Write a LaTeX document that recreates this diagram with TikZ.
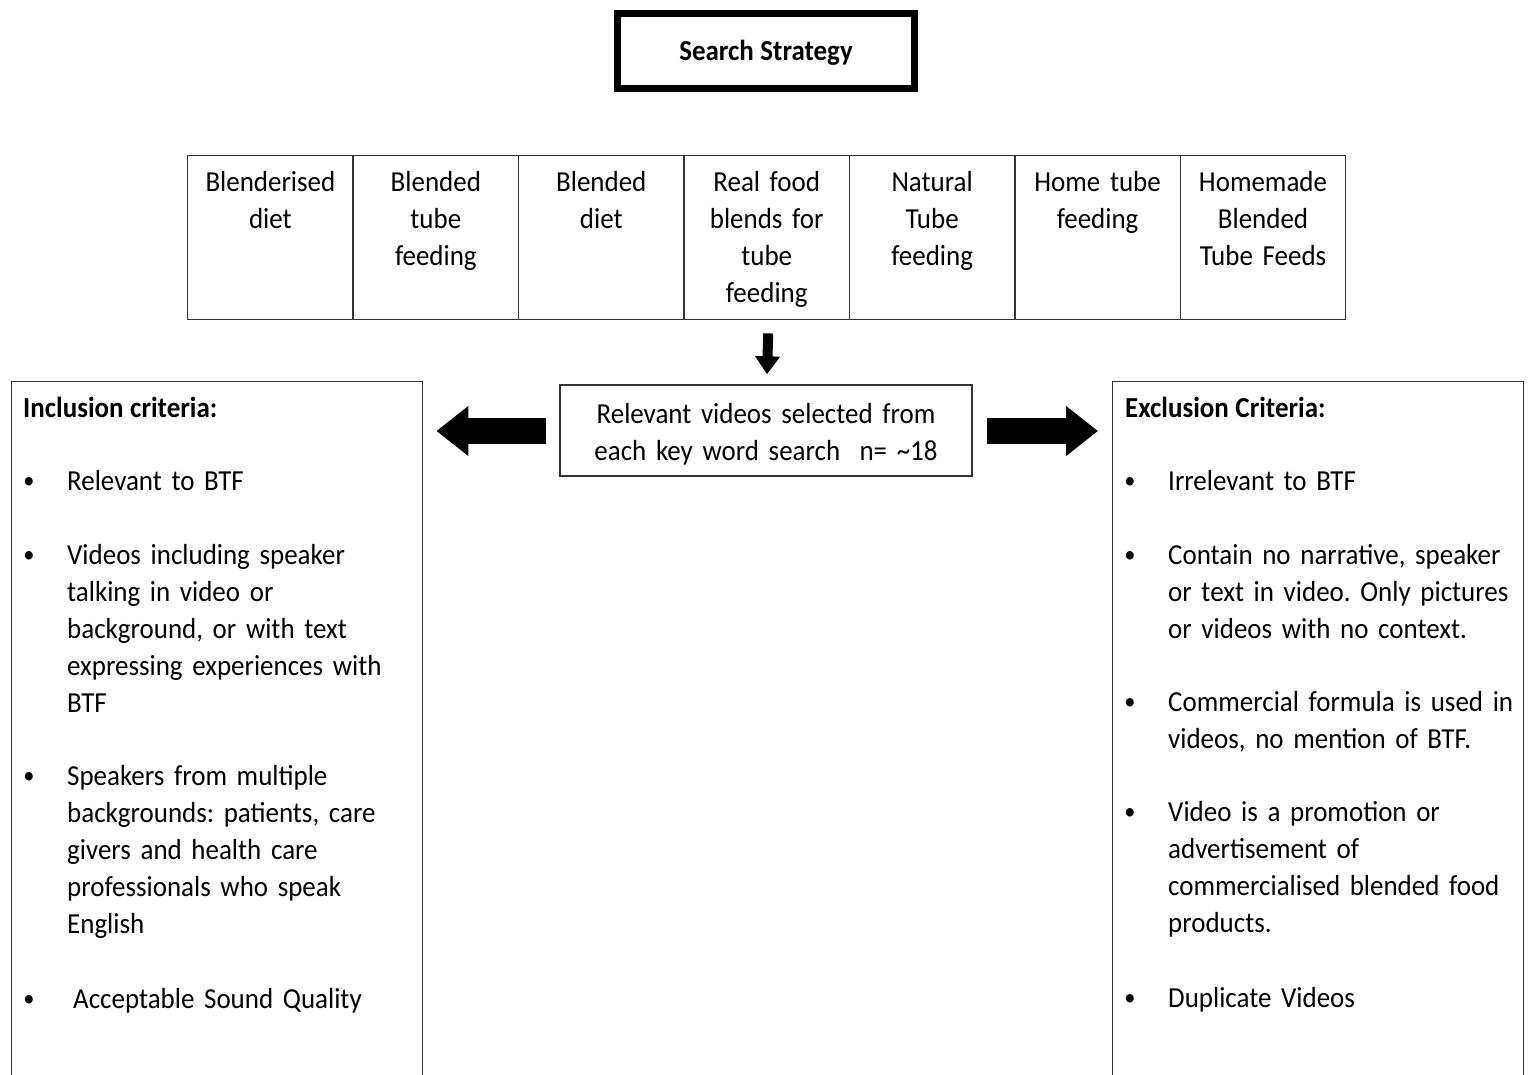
\documentclass[tikz,border=0pt]{standalone}
\usepackage{fontspec}
\setmainfont{Carlito}[FakeStretch=0.93]
\usetikzlibrary{arrows.meta,calc}
\newcommand\mysp{\spaceskip=6.6pt plus 2pt minus 1pt\relax\frenchspacing}
\begin{document}
\begin{tikzpicture}[x=1pt,y=-1pt,
  frame/.style={draw=black!80, line width=1.4pt, inner sep=0pt},
  txt/.style={font={\fontsize{29}{37}\selectfont\mysp}, inner sep=0pt},
  btxt/.style={font={\fontsize{29}{37}\selectfont\bfseries\mysp}, inner sep=0pt},
  item/.style={txt, anchor=base west, text width=420pt, align=left},
  bul/.style={font=\fontsize{24}{37}\selectfont, inner sep=0pt, anchor=base},
  cell/.style={frame, minimum width=165.43pt, minimum height=164pt, anchor=north west},
  ctext/.style={txt, anchor=base, text width=160pt, align=center},
  blockarrow/.style={line width=26pt, -{Triangle[length=32pt,width=48pt]}}]
\path[use as bounding box] (0,0) rectangle (1531,1075);
\clip (0,0) rectangle (1531,1075);

% title
\node[draw=black, line width=7pt, minimum width=297pt, minimum height=75pt, inner sep=0pt] (title) at (766,51) {};
\node[btxt, anchor=base] (titletext) at (766,61) {Search Strategy};

% keyword table
\foreach \i/\t in {1/{Blenderised\\diet},2/{Blended\\tube\\feeding},3/{Blended\\diet},4/{Real food\\blends for\\tube\\feeding},5/{Natural\\Tube\\feeding},6/{Home tube\\feeding},7/{Homemade\\Blended\\Tube Feeds}}{
  \node[cell] (c\i) at ({187+(\i-1)*165.43},155) {};
  \node[ctext] (t\i) at ($(c\i.north)+(0,37)$) {\t};
}

% middle box
\node[frame, minimum width=412pt, minimum height=91pt] (mid) at (766,430.5) {};
\node[txt, anchor=base, text width=400pt, align=center] (midtext) at (766,423) {Relevant videos selected from\\each key word search\ \ n= \char`\~18};

% side boxes
\node[frame, minimum width=411pt, minimum height=760pt, anchor=north west] (inc) at (11,381) {};
\node[frame, minimum width=411pt, minimum height=760pt, anchor=north west] (exc) at (1112,381) {};

% arrows
\draw[line width=10pt, -{Triangle[length=18pt,width=24pt]}] ($(c4.south)+(1.5,13)$) -- ($(mid.north)+(1,-10)$);
\draw[blockarrow] ($(mid.west)+(-13,0.5)$) -- ($(inc.east |- mid.west)+(13,0.5)$);
\draw[blockarrow] ($(mid.east)+(14,0.5)$) -- ($(exc.west |- mid.east)+(-14,0.5)$);

% inclusion
\node[btxt, anchor=base west] (inchead) at (23,417) {Inclusion criteria:};
\node[bul] (ib1) at (29,488) {•};
\node[item] (i1) at (67,490) {Relevant to BTF};
\node[bul] (ib2) at (29,562) {•};
\node[item] (i2) at (67,564) {Videos including speaker\\talking in video or\\background, or with text\\expressing experiences with\\BTF};
\node[bul] (ib3) at (29,783) {•};
\node[item] (i3) at (67,785) {Speakers from multiple\\backgrounds: patients, care\\givers and health care\\professionals who speak\\English};
\node[bul] (ib4) at (29,1006) {•};
\node[item] (i4) at (73,1008) {Acceptable Sound Quality};

% exclusion
\node[btxt, anchor=base west] (exchead) at (1125,417) {Exclusion Criteria:};
\node[bul] (eb1) at (1130,488) {•};
\node[item] (e1) at (1168,490) {Irrelevant to BTF};
\node[bul] (eb2) at (1130,562) {•};
\node[item] (e2) at (1168,564) {Contain no narrative, speaker\\or text in video. Only pictures\\or videos with no context.};
\node[bul] (eb3) at (1130,709) {•};
\node[item] (e3) at (1168,711) {Commercial formula is used in\\videos, no mention of BTF.};
\node[bul] (eb4) at (1130,819) {•};
\node[item] (e4) at (1168,821) {Video is a promotion or\\advertisement of\\commercialised blended food\\products.};
\node[bul] (eb5) at (1130,1005) {•};
\node[item] (e5) at (1168,1007) {Duplicate Videos};
\end{tikzpicture}
\end{document}
